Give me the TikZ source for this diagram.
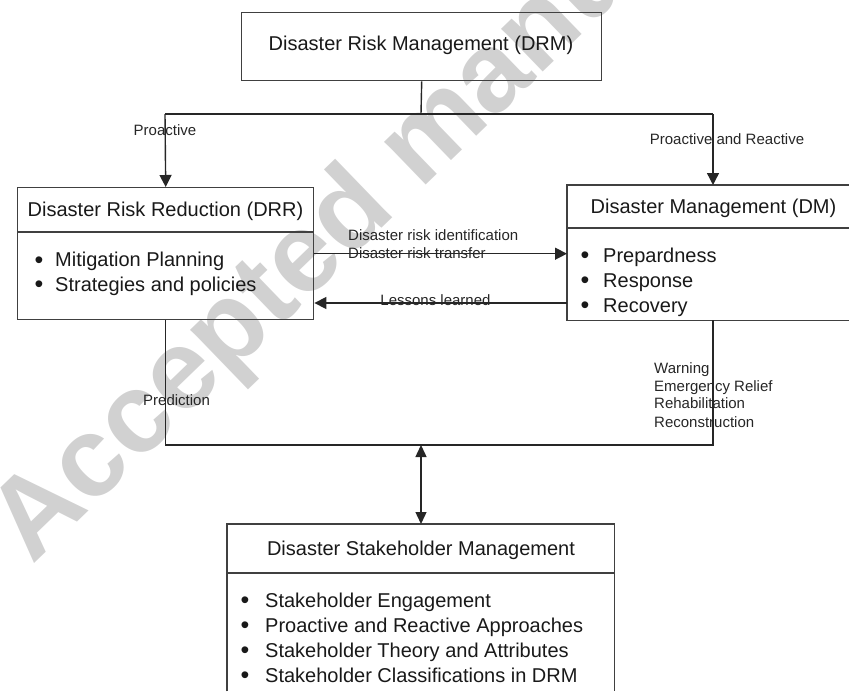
\documentclass[tikz,border=0pt]{standalone}
\usepackage{fontspec}
\setmainfont{Liberation Sans}
\usetikzlibrary{arrows.meta,calc}
\begin{document}
\begin{tikzpicture}[x=1pt,y=-1pt,
  box/.style={draw=black!75, line width=1.4pt, inner sep=0pt, anchor=north west},
  openbox/.style={inner sep=0pt, anchor=north west},
  ln/.style={draw=black!85, line width=1.4pt},
  arr/.style={ln, -{Triangle[length=12pt,width=12pt]}},
  darr/.style={ln, {Triangle[length=12pt,width=11pt]}-{Triangle[length=12pt,width=11pt]}},
  title/.style={font=\fontsize{20}{24}\selectfont, anchor=base, inner sep=0pt, text=black!90},
  item/.style={font=\fontsize{20}{24}\selectfont, anchor=base west, inner sep=0pt, text=black!90},
  bul/.style={font=\fontsize{25}{28}\selectfont, anchor=base, inner sep=0pt, text=black!90},
  lbl/.style={font=\fontsize{15}{18}\selectfont, inner sep=0pt, text=black!85},
  wmark/.style={font=\fontsize{113}{113}\selectfont\bfseries, text=black!18, rotate=44, anchor=base west, inner sep=0pt},
]
\useasboundingbox (0,0) rectangle (849,691);
% watermark
\node[wmark] (wm) at (32,566) {Accepted manu};

% boxes
\node[box, minimum width=360pt, minimum height=68pt] (drm) at (241,12) {};
\node[box, minimum width=296pt, minimum height=132pt] (drr) at (17,187) {};
\node[openbox, minimum width=282pt, minimum height=135pt] (dm) at (567,185) {};
\node[openbox, minimum width=387pt, minimum height=167pt] (dsm) at (227,524) {};
\draw[ln, draw=black!75] (dm.north east) -- (dm.north west) -- (dm.south west) -- (dm.south east);
\draw[ln, draw=black!75] (dsm.south west) -- (dsm.north west) -- (dsm.north east) -- (dsm.south east);

% dividers
\coordinate (d1) at (0,232);
\coordinate (d2) at (0,228);
\coordinate (d3) at (0,573);
\draw[ln, draw=black!75] (drr.west |- d1) -- (drr.east |- d1);
\draw[ln, draw=black!75] (dm.west |- d2) -- (dm.east |- d2);
\draw[ln, draw=black!75] (dsm.west |- d3) -- (dsm.east |- d3);

% titles
\node[title] (drmt) at (421,50) {Disaster Risk Management (DRM)};
\node[title] (drrt) at (165.5,216) {Disaster Risk Reduction (DRR)};
\node[title] (dmt) at (713.5,213) {Disaster Management (DM)};
\node[title] (dsmt) at (421,555) {Disaster Stakeholder Management};

% items DRR
\node[bul] (b1) at (39,268) {•};
\node[item] (i1) at (55,266.5) {Mitigation Planning};
\node[bul] (b2) at (39,292.5) {•};
\node[item] (i2) at (55,291) {Strategies and policies};
% items DM
\node[bul] (b3) at (585,263.5) {•};
\node[item] (i3) at (603,262) {Prepardness};
\node[bul] (b4) at (585,288.5) {•};
\node[item] (i4) at (603,287) {Response};
\node[bul] (b5) at (585,313.5) {•};
\node[item] (i5) at (603,312) {Recovery};
% items DSM
\node[bul] (b6) at (245,608.5) {•};
\node[item] (i6) at (265,607) {Stakeholder Engagement};
\node[bul] (b7) at (245,633.5) {•};
\node[item] (i7) at (265,632) {Proactive and Reactive Approaches};
\node[bul] (b8) at (245,658.5) {•};
\node[item] (i8) at (265,657) {Stakeholder Theory and Attributes};
\node[bul] (b9) at (245,683.5) {•};
\node[item] (i9) at (265,682) {Stakeholder Classifications in DRM};

% connectors
\coordinate (split) at (421,114);
\coordinate (lsplit) at (165,114);
\coordinate (rsplit) at (713,114);
\coordinate (loopmid) at (421,445);
\coordinate (loopR) at (713,445);
\coordinate (ll) at (0,303);
\draw[ln] (drm.south) -- (split);
\draw[ln] (lsplit) -- (rsplit);
\draw[arr] (lsplit) -- (drr.north);
\draw[arr] (rsplit) -- (rsplit |- dm.north);
\draw[arr] (drr.east) -- (drr.east -| dm.west);
\draw[arr] (dm.west |- ll) -- (drr.east |- ll);
\draw[ln] (drr.south) -- (drr.south |- loopmid) -- (loopR) -- (rsplit |- dm.south);
\draw[darr] (loopmid) -- (loopmid |- dsm.north);

% labels
\node[lbl, anchor=base] (lp) at (165,135) {Proactive};
\node[lbl, anchor=base] (lpr) at (727,144) {Proactive and Reactive};
\node[lbl, anchor=base west] (lid) at (348,240) {Disaster risk identification};
\node[lbl, anchor=base west] (ltr) at (348,258) {Disaster risk transfer};
\node[lbl, anchor=base] (lles) at (435.5,305) {Lessons learned};
\node[lbl, anchor=base west] (lpred) at (143,405) {Prediction};
\node[lbl, anchor=base west] (lw1) at (654,373) {Warning};
\node[lbl, anchor=base west] (lw2) at (654,391) {Emergency Relief};
\node[lbl, anchor=base west] (lw3) at (654,408.5) {Rehabilitation};
\node[lbl, anchor=base west] (lw4) at (654,427) {Reconstruction};
\end{tikzpicture}
\end{document}
